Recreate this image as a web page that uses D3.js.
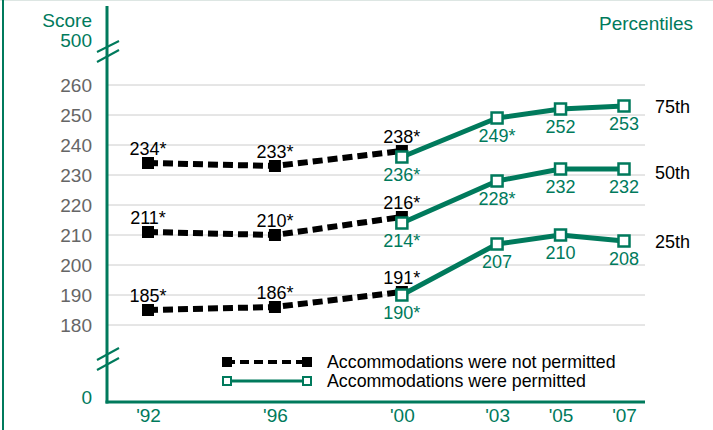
<!DOCTYPE html>
<html><head><meta charset="utf-8">
<script src="https://cdn.jsdelivr.net/npm/d3@7"></script>
<style>body{margin:0;background:#fff;}svg{display:block;font-family:"Liberation Sans",Arial,sans-serif;}</style>
</head><body>
<svg id="c" width="713" height="430"></svg>
<script>
const years = [1992, 1996, 2000, 2003, 2005, 2007];
const yearLabels = ["'92", "'96", "'00", "'03", "'05", "'07"];
const yTicks = [180, 190, 200, 210, 220, 230, 240, 250, 260];
const percentiles = ["75th", "50th", "25th"];
const percentileLabelValues = [253, 231, 208];
// Accommodations not permitted (1992, 1996, 2000)
const notPermYears = [1992, 1996, 2000];
const notPerm75 = [234, 233, 238];
const notPerm50 = [211, 210, 216];
const notPerm25 = [185, 186, 191];
const notPermStar = [[true, true, true], [true, true, true], [true, true, true]];
// Accommodations permitted (2000, 2003, 2005, 2007)
const permYears = [2000, 2003, 2005, 2007];
const perm75 = [236, 249, 252, 253];
const perm50 = [214, 228, 232, 232];
const perm25 = [190, 207, 210, 208];
const permStar = [[true, true, false, false], [true, true, false, false], [true, false, false, false]];
const legendLabels = ["Accommodations were not permitted", "Accommodations were permitted"];

const green = "#007a5c";
const FF = "Liberation Sans, Arial, sans-serif";
const svg = d3.select("#c");
const x = d3.scaleLinear().domain([1992, 2007]).range([148, 624]);
const y = d3.scaleLinear().domain([180, 260]).range([325, 85]);
const axX = 107, baseY = 402;

// frame
svg.append("line").attr("x1",0).attr("x2",713).attr("y1",0.5).attr("y2",0.5).attr("stroke","#dde6e3").attr("stroke-width",1);
svg.append("line").attr("x1",3).attr("x2",3).attr("y1",0).attr("y2",430).attr("stroke",green).attr("stroke-width",2);

// gridlines
svg.append("g").selectAll("line").data(yTicks).join("line")
  .attr("x1", axX).attr("x2", 645)
  .attr("y1", d => y(d)).attr("y2", d => y(d))
  .attr("stroke", "#cccccc").attr("stroke-width", 1);

// y tick labels
const yAxis = d3.axisLeft(y).tickValues(yTicks).tickSize(0).tickPadding(0);
const yg = svg.append("g").attr("transform", `translate(92,0)`).call(yAxis);
yg.select(".domain").remove();
yg.attr("font-family", FF).attr("font-size", 19);
yg.selectAll("text").attr("fill", "#666").attr("dy", "0.35em");

// axes lines
svg.append("line").attr("x1", axX).attr("x2", axX).attr("y1", 6).attr("y2", baseY+1.5).attr("stroke", green).attr("stroke-width", 3);
svg.append("line").attr("x1", axX-1.5).attr("x2", 645).attr("y1", baseY).attr("y2", baseY).attr("stroke", green).attr("stroke-width", 3);

// breaks
const breaks = [[52,41],[62,50],[360,348],[370,358]];
breaks.forEach(b => {
  svg.append("line").attr("x1", 97).attr("y1", b[0]).attr("x2", 119).attr("y2", b[1]).attr("stroke", green).attr("stroke-width", 2);
});

// y labels top/bottom
svg.append("text").attr("x", 92).attr("y", 27).attr("text-anchor","end").attr("fill", green).style("font-size","19px").text("Score");
svg.append("text").attr("x", 92).attr("y", 47).attr("text-anchor","end").attr("fill", green).style("font-size","19px").text("500");
svg.append("text").attr("x", 92).attr("y", 404).attr("text-anchor","end").attr("fill", green).style("font-size","19px").text("0");
svg.append("text").attr("x", 693).attr("y", 30).attr("text-anchor","end").attr("fill", green).style("font-size","19px").text("Percentiles");

// x labels
const xAxis = d3.axisBottom(x).tickValues(years).tickFormat((d,i) => yearLabels[i]).tickSize(0).tickPadding(0);
const xg = svg.append("g").attr("transform", `translate(0,${baseY+6})`).call(xAxis);
xg.select(".domain").remove();
xg.attr("font-family", FF).attr("font-size", 19);
xg.selectAll("text").attr("fill", green);

const line = d3.line().x(d => x(d[0])).y(d => y(d[1]));

const notSeries = [notPerm75, notPerm50, notPerm25];
const permSeries = [perm75, perm50, perm25];

// permitted lines (green) under
permSeries.forEach(vals => {
  const pts = permYears.map((yr,i)=>[yr, vals[i]]);
  svg.append("path").attr("d", line(pts)).attr("fill","none").attr("stroke", green).attr("stroke-width", 5).attr("stroke-linejoin","round");
});
// not permitted dashed
notSeries.forEach(vals => {
  const pts = notPermYears.map((yr,i)=>[yr, vals[i]]);
  svg.append("path").attr("d", line(pts)).attr("fill","none").attr("stroke", "#000").attr("stroke-width", 6).attr("stroke-dasharray","10,5");
});
// black markers
notSeries.forEach((vals, s) => {
  svg.append("g").selectAll("rect").data(notPermYears.map((yr,i)=>[yr, vals[i]])).join("rect")
    .attr("x", d => x(d[0]) - 6).attr("y", d => y(d[1]) - 6).attr("width", 12).attr("height", 12).attr("fill", "#000");
  svg.append("g").selectAll("text").data(notPermYears.map((yr,i)=>[yr, vals[i], notPermStar[s][i]])).join("text")
    .attr("x", d => x(d[0])).attr("y", d => y(d[1]) - 8).attr("text-anchor","middle")
    .attr("fill","#000").style("font-size","18px").text(d => d[1] + (d[2] ? "*" : ""));
});
// green markers
permSeries.forEach((vals, s) => {
  svg.append("g").selectAll("rect").data(permYears.map((yr,i)=>[yr, vals[i]])).join("rect")
    .attr("x", d => x(d[0]) - 5.5).attr("y", d => y(d[1]) - 5.5).attr("width", 11).attr("height", 11)
    .attr("fill", "#fff").attr("stroke", green).attr("stroke-width", 2.5);
  svg.append("g").selectAll("text").data(permYears.map((yr,i)=>[yr, vals[i], permStar[s][i]])).join("text")
    .attr("x", d => x(d[0])).attr("y", d => y(d[1]) + 24).attr("text-anchor","middle")
    .attr("fill",green).style("font-size","18px").text(d => d[1] + (d[2] ? "*" : ""));
});

// percentile labels
svg.append("g").selectAll("text").data(percentiles).join("text")
  .attr("x", 655).attr("y", (d,i) => y(percentileLabelValues[i]) + 7)
  .attr("fill", "#000").style("font-size","18px").text(d => d);

// legend
const lg = svg.append("g");
lg.append("line").attr("x1",226).attr("x2",306).attr("y1",362).attr("y2",362).attr("stroke","#000").attr("stroke-width",4).attr("stroke-dasharray","9,5");
lg.append("rect").attr("x",222).attr("y",357).attr("width",10).attr("height",10).attr("fill","#000");
lg.append("rect").attr("x",302).attr("y",357).attr("width",10).attr("height",10).attr("fill","#000");
lg.append("line").attr("x1",226).attr("x2",306).attr("y1",381).attr("y2",381).attr("stroke",green).attr("stroke-width",3);
lg.append("rect").attr("x",223).attr("y",377).attr("width",8).attr("height",8).attr("fill","#fff").attr("stroke",green).attr("stroke-width",2);
lg.append("rect").attr("x",303).attr("y",377).attr("width",8).attr("height",8).attr("fill","#fff").attr("stroke",green).attr("stroke-width",2);
lg.selectAll("text.l").data(legendLabels).join("text").attr("class","l")
  .attr("x", 327).attr("y", (d,i) => 368 + i*19).attr("fill","#000").style("font-size","17.8px").text(d => d);
</script>
</body></html>
